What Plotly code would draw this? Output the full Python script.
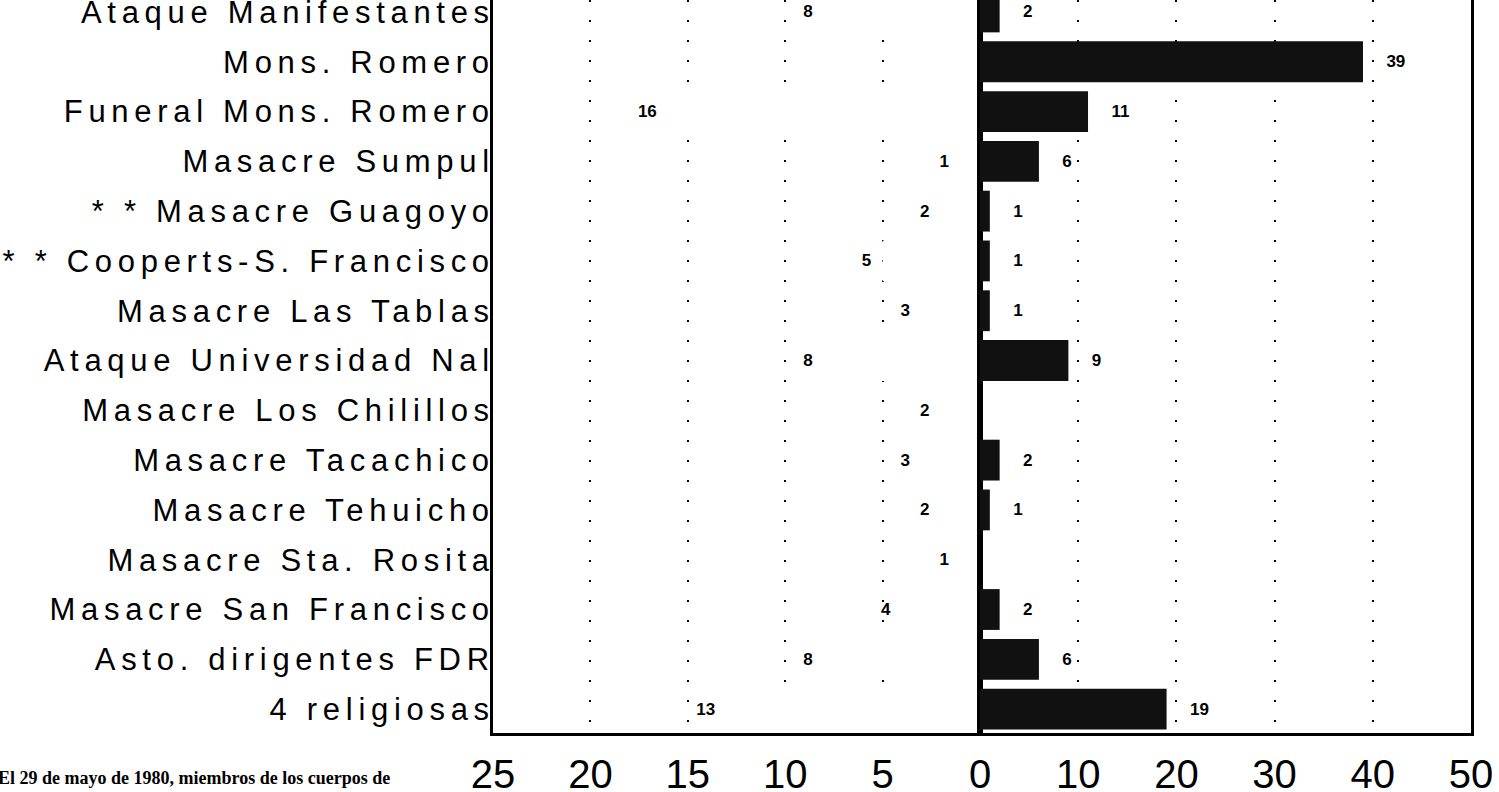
import plotly.graph_objects as go

categories = [
    "Ataque Manifestantes",
    "Mons. Romero",
    "Funeral Mons. Romero",
    "Masacre Sumpul",
    "* * Masacre Guagoyo",
    "* * Cooperts-S. Francisco",
    "Masacre Las Tablas",
    "Ataque Universidad Nal",
    "Masacre Los Chilillos",
    "Masacre Tacachico",
    "Masacre Tehuicho",
    "Masacre Sta. Rosita",
    "Masacre San Francisco",
    "Asto. dirigentes FDR",
    "4 religiosas",
]
left_values = [8, None, 16, 1, 2, 5, 3, 8, 2, 3, 2, 1, 4, 8, 13]
right_values = [2, 39, 11, 6, 1, 1, 1, 9, None, 2, 1, None, 2, 6, 19]
left_ticks = [25, 20, 15, 10, 5, 0]
right_ticks = [10, 20, 30, 40, 50]
footnote = "El 29 de mayo de 1980, miembros de los cuerpos de"

W, H = 1499, 792
ML, MR, MT, MB = 493, 28, 0, 59
plot_w = W - ML - MR
plot_h = H - MT - MB
split = (980 - ML) / plot_w

label_font = dict(family="Liberation Sans", size=17, color="black", weight="bold")

fig = go.Figure()
fig.add_trace(go.Bar(
    y=categories, x=left_values, orientation="h",
    xaxis="x", yaxis="y",
    marker=dict(color="white", line=dict(width=0)),
    texttemplate="%{x}\u2002", textposition="outside", textangle=0,
    textfont=label_font, cliponaxis=False, hoverinfo="skip",
))
fig.add_trace(go.Bar(
    y=categories, x=right_values, orientation="h",
    xaxis="x2", yaxis="y2",
    marker=dict(color="#111111", line=dict(width=0)),
    texttemplate="\u2003\u2009%{x}", textposition="outside", textangle=0,
    textfont=label_font, cliponaxis=False, hoverinfo="skip",
))

cat_order = list(reversed(categories))
yrange = [-0.48, 14.24]
ticktext = ['<span style="letter-spacing:5.7px">%s</span>' % c for c in cat_order]

grid = dict(showgrid=True, gridcolor="black", gridwidth=1.6, griddash="2px,18px")
tickfont = dict(family="Liberation Sans", size=40, color="black")

fig.update_layout(
    width=W, height=H,
    margin=dict(l=ML, r=MR, t=MT, b=MB, autoexpand=False),
    paper_bgcolor="white", plot_bgcolor="white",
    showlegend=False, bargap=0.18,
    xaxis=dict(domain=[0, split], range=[25, 0], tickvals=left_ticks,
               tickfont=tickfont, ticks="", ticklabelstandoff=4, automargin=False,
               showline=True, linecolor="black", linewidth=3, zeroline=False,
               **grid),
    xaxis2=dict(domain=[split, 1], range=[0, 50], tickvals=right_ticks,
                tickfont=tickfont, ticks="", ticklabelstandoff=4, automargin=False,
                showline=True, linecolor="black", linewidth=3, zeroline=False,
                anchor="y2", **grid),
    yaxis=dict(domain=[0, 1], type="category", categoryorder="array",
               categoryarray=cat_order, range=yrange,
               tickvals=cat_order, ticktext=ticktext, automargin=False,
               tickfont=dict(family="Liberation Sans", size=31, color="black"),
               ticks="", ticklabelstandoff=-11,
               showline=True, mirror=True, linecolor="black", linewidth=3,
               showgrid=False, zeroline=False),
    yaxis2=dict(domain=[0, 1], type="category", categoryorder="array",
                categoryarray=cat_order, range=yrange, anchor="x2", automargin=False,
                showticklabels=False, ticks="",
                showline=True, mirror=True, linecolor="black", linewidth=3,
                showgrid=False, zeroline=False),
    annotations=[dict(
        text=footnote, xref="paper", yref="paper",
        x=-(ML + 4) / plot_w, y=-45 / plot_h,
        xanchor="left", yanchor="middle", showarrow=False,
        font=dict(family="Liberation Serif", size=18, color="black", weight="bold"),
    )],
)

fig.write_html("out.html", config={"displayModeBar": False},
               post_script="document.body.style.margin='0';")
